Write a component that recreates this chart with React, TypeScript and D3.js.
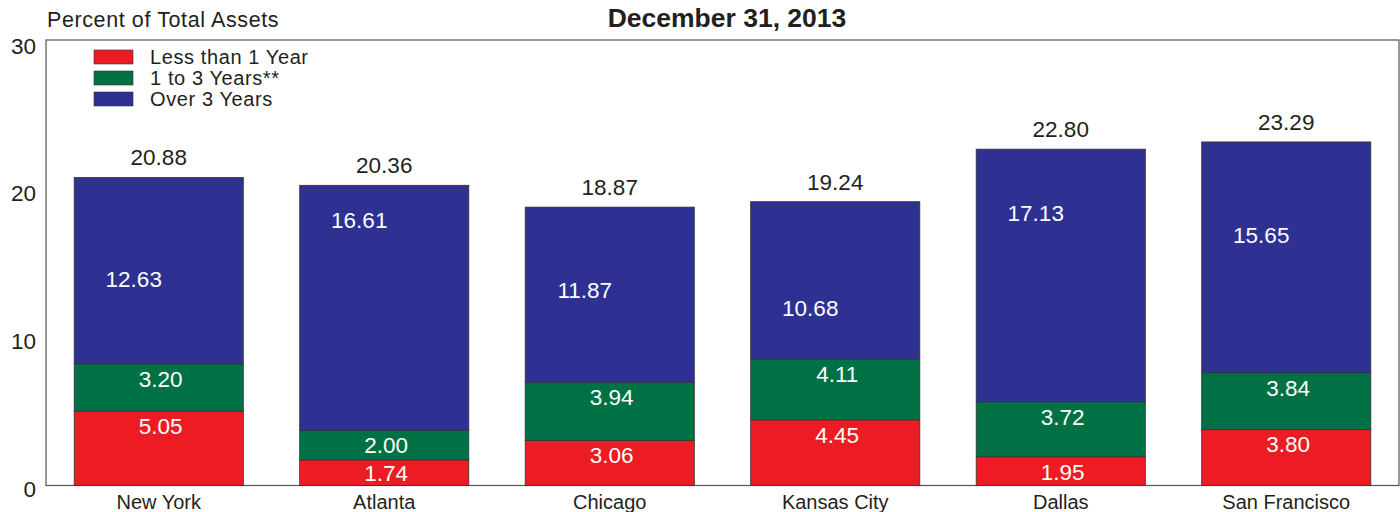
import React from "react";
import * as d3 from "d3";

const categories = ["New York", "Atlanta", "Chicago", "Kansas City", "Dallas", "San Francisco"];
const lessThan1 = [5.05, 1.74, 3.06, 4.45, 1.95, 3.8];
const oneTo3 = [3.2, 2.0, 3.94, 4.11, 3.72, 3.84];
const over3 = [12.63, 16.61, 11.87, 10.68, 17.13, 15.65];
const totals = [20.88, 20.36, 18.87, 19.24, 22.8, 23.29];
const yTicks = [0, 10, 20, 30];
const seriesNames = ["Less than 1 Year", "1 to 3 Years**", "Over 3 Years"];
const colors = ["#ED1C24", "#007145", "#2E3192"];

const W = 1400;
const H = 512;
const left = 46;
const right = 1399;
const top = 40;
const bottom = 485.5;
const FONT = "'Liberation Sans', Arial, Helvetica, sans-serif";

export default function App() {
  const x = d3.scaleBand<string>().domain(categories).range([left, right]).paddingInner(0.25).paddingOuter(0.125);
  const y = d3.scaleLinear().domain([0, 30.2]).range([bottom, top]);
  const rows = categories.map((c, i) => ({ c, a: lessThan1[i], b: oneTo3[i], o: over3[i] }));
  const stack = d3.stack<any>().keys(["a", "b", "o"])(rows);
  const bw = x.bandwidth();

  return (
    <svg width={W} height={H} style={{ position: "absolute", left: 0, top: 0, fontFamily: FONT }}>
      <rect x={0} y={0} width={W} height={H} fill="#fff" />
      <text x={47} y={27} fontSize={21.5} letterSpacing={0.6} fill="#231f20">Percent of Total Assets</text>
      <text x={727} y={27.3} fontSize={26.5} fontWeight="bold" textAnchor="middle" fill="#231f20">December 31, 2013</text>
      <rect x={left} y={top} width={right - left} height={bottom - top} fill="none" stroke="#555" strokeWidth={1.2} />
      {yTicks.map((t) => (
        <text key={t} x={36} y={y(t) + 11} fontSize={22.5} textAnchor="end" fill="#231f20">{t}</text>
      ))}
      {stack.map((s, si) =>
        s.map((d, i) => (
          <rect
            key={si + "-" + i}
            x={x(categories[i])}
            y={y(d[1])}
            width={bw}
            height={y(d[0]) - y(d[1])}
            fill={colors[si]}
            stroke="#333"
            strokeWidth={0.8}
          />
        ))
      )}
      {categories.map((c, i) => {
        const cx = (x(c) as number) + bw / 2;
        const s0 = stack[0][i];
        const s1 = stack[1][i];
        return (
          <g key={c} fontSize={22.5} textAnchor="middle">
            <text x={cx + 2} y={Math.min(y(s0[1]) + 23, bottom - 5)} fill="#fff">{lessThan1[i].toFixed(2)}</text>
            <text x={cx + 2} y={y(s1[1]) + 23} fill="#fff">{oneTo3[i].toFixed(2)}</text>
            <text x={cx - 25} y={y(over3[i]) - 12} fill="#fff">{over3[i].toFixed(2)}</text>
            <text x={cx} y={y(totals[i]) - 12} fill="#231f20">{totals[i].toFixed(2)}</text>
            <text x={cx} y={509} fontSize={20} fill="#231f20">{c}</text>
          </g>
        );
      })}
      {seriesNames.map((n, i) => (
        <g key={n}>
          <rect x={94} y={50 + i * 21} width={39} height={14} fill={colors[i]} stroke="#333" strokeWidth={0.6} />
          <text x={150} y={64 + i * 21} fontSize={20} letterSpacing={0.6} fill="#231f20">{n}</text>
        </g>
      ))}
    </svg>
  );
}
